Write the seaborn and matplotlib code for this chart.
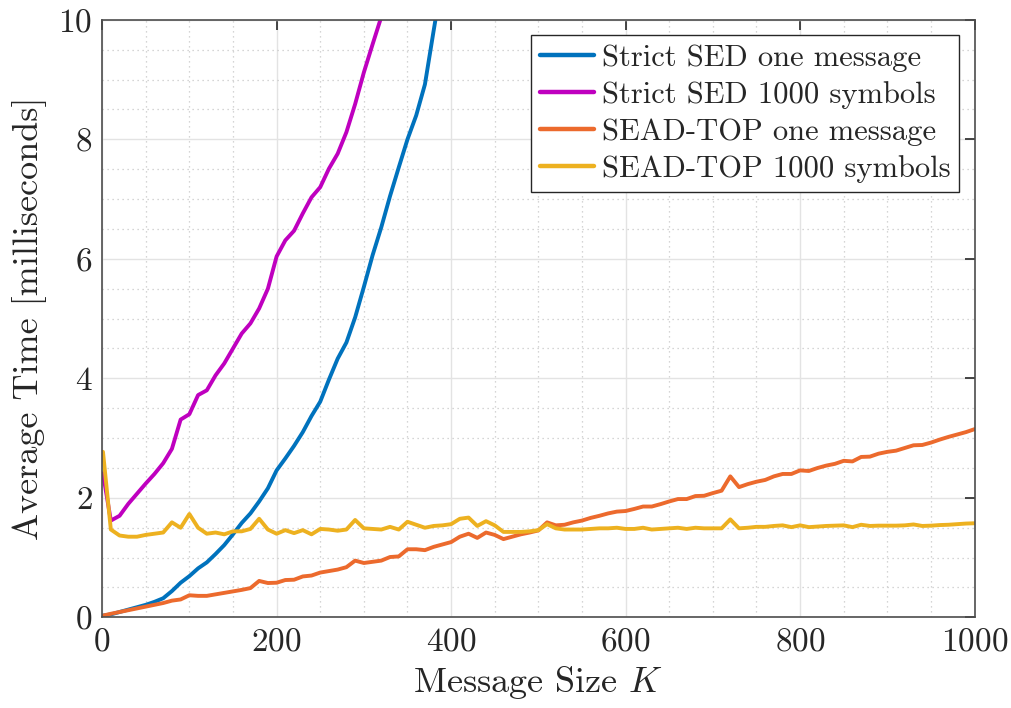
import numpy as np
import matplotlib
matplotlib.use("Agg")
import matplotlib.pyplot as plt
import seaborn as sns

# Message sizes K at which the timings were taken
k_values = np.r_[1, np.arange(10, 1001, 10)]

# Average time (ms) per scheme
strict_sed_one = [0.03, 0.05, 0.09, 0.13, 0.17, 0.21, 0.26, 0.32, 0.44, 0.58,
                  0.69, 0.82, 0.92, 1.06, 1.21, 1.39, 1.58, 1.74, 1.94, 2.16,
                  2.46, 2.66, 2.87, 3.10, 3.37, 3.61, 3.98, 4.33, 4.60, 5.02,
                  5.53, 6.06, 6.53, 7.05, 7.53, 8.00, 8.40, 8.92, 9.82, 10.70]

strict_sed_1000 = [2.41, 1.62, 1.70, 1.90, 2.07, 2.24, 2.40, 2.58, 2.82, 3.31,
                   3.40, 3.72, 3.80, 4.05, 4.25, 4.50, 4.75, 4.92, 5.17, 5.50,
                   6.04, 6.31, 6.47, 6.76, 7.03, 7.20, 7.51, 7.76, 8.12, 8.59,
                   9.12, 9.59, 10.05, 10.55]

sead_top_one = [0.03, 0.06, 0.09, 0.12, 0.15, 0.18, 0.21, 0.24, 0.28, 0.30,
                0.37, 0.36, 0.36, 0.385, 0.41, 0.435, 0.46, 0.49, 0.61, 0.575,
                0.58, 0.625, 0.63, 0.685, 0.70, 0.75, 0.775, 0.80, 0.84, 0.95,
                0.91, 0.93, 0.95, 1.01, 1.02, 1.14, 1.14, 1.125, 1.18, 1.22,
                1.26, 1.35, 1.40, 1.33, 1.42, 1.38, 1.31, 1.35, 1.39, 1.42,
                1.455, 1.59, 1.54, 1.55, 1.59, 1.62, 1.665, 1.70, 1.74, 1.77,
                1.78, 1.815, 1.855, 1.855, 1.895, 1.94, 1.98, 1.98, 2.03, 2.035,
                2.08, 2.12, 2.36, 2.18, 2.23, 2.27, 2.30, 2.36, 2.40, 2.40,
                2.46, 2.45, 2.50, 2.54, 2.57, 2.62, 2.61, 2.685, 2.69, 2.74,
                2.77, 2.79, 2.835, 2.88, 2.885, 2.925, 2.975, 3.02, 3.06, 3.10,
                3.15]

sead_top_1000 = [2.77, 1.47, 1.37, 1.35, 1.35, 1.38, 1.40, 1.42, 1.59, 1.50,
                 1.73, 1.50, 1.40, 1.42, 1.39, 1.44, 1.44, 1.48, 1.65, 1.47,
                 1.40, 1.46, 1.41, 1.46, 1.39, 1.48, 1.47, 1.45, 1.47, 1.63,
                 1.49, 1.48, 1.47, 1.515, 1.47, 1.60, 1.55, 1.50, 1.53, 1.54,
                 1.56, 1.65, 1.67, 1.53, 1.61, 1.54, 1.43, 1.43, 1.43, 1.44,
                 1.46, 1.56, 1.49, 1.47, 1.47, 1.47, 1.48, 1.49, 1.49, 1.50,
                 1.48, 1.48, 1.50, 1.47, 1.48, 1.49, 1.50, 1.48, 1.50, 1.49,
                 1.49, 1.49, 1.64, 1.49, 1.50, 1.515, 1.515, 1.53, 1.54, 1.51,
                 1.54, 1.51, 1.52, 1.53, 1.535, 1.54, 1.51, 1.55, 1.53, 1.535,
                 1.535, 1.535, 1.54, 1.555, 1.53, 1.535, 1.545, 1.55, 1.56, 1.57,
                 1.575]

series = [
    ("Strict SED one message", strict_sed_one, "#0072BD"),
    ("Strict SED 1000 symbols", strict_sed_1000, "#BF00BF"),
    ("SEAD-TOP one message", sead_top_one, "#EC6A2D"),
    ("SEAD-TOP 1000 symbols", sead_top_1000, "#EDB120"),
]

x_ticks = [0, 200, 400, 600, 800, 1000]
y_ticks = [0, 2, 4, 6, 8, 10]

sns.set_theme(style="whitegrid")
plt.rcParams["font.family"] = "serif"
plt.rcParams["font.serif"] = ["cmr10", "DejaVu Serif"]
plt.rcParams["mathtext.fontset"] = "cm"
plt.rcParams["axes.unicode_minus"] = False
plt.rcParams["axes.formatter.use_mathtext"] = True

fig = plt.figure(figsize=(10.11, 7.08), dpi=100)
ax = fig.add_axes([0.101, 0.128, 0.863, 0.844])
ax.set_facecolor("white")

for label, vals, color in series:
    sns.lineplot(x=k_values[:len(vals)], y=vals, ax=ax, color=color,
                 linewidth=2.8, label=label)

ax.set_xlim(0, 1000)
ax.set_ylim(0, 10)
ax.set_xticks(x_ticks)
ax.set_yticks(y_ticks)
ax.set_xticks(np.arange(0, 1001, 50), minor=True)
ax.set_yticks(np.arange(0, 10.01, 0.5), minor=True)

ax.grid(which="major", color="#e3e3e3", linestyle="-", linewidth=1.0)
ax.grid(which="minor", color="#c8c8c8", linestyle=(0, (1, 3)), linewidth=0.9)
ax.set_axisbelow(True)

for side in ["left", "right", "top", "bottom"]:
    ax.spines[side].set_visible(True)
    ax.spines[side].set_color("#4d4d4d")
    ax.spines[side].set_linewidth(1.2)

ax.tick_params(which="major", direction="in", length=7, width=1.2,
               color="#262626", top=True, right=True, labelsize=24,
               labelcolor="#262626", pad=7)
ax.tick_params(which="minor", length=0, top=True, right=True)

ax.set_xlabel("Message Size $K$", fontsize=26, color="#262626", labelpad=6)
ax.set_ylabel("Average Time [milliseconds]", fontsize=26, color="#262626",
              labelpad=8)

leg = ax.legend(loc="upper right", fontsize=22, frameon=True, fancybox=False,
                edgecolor="#262626", framealpha=1.0, handlelength=1.75,
                handletextpad=0.25, labelspacing=0.3, borderpad=0.3,
                borderaxespad=0.5)
leg.get_frame().set_linewidth(1.0)
for line in leg.get_lines():
    line.set_linewidth(3.2)

fig.savefig("out.png", dpi=100, facecolor="white")
